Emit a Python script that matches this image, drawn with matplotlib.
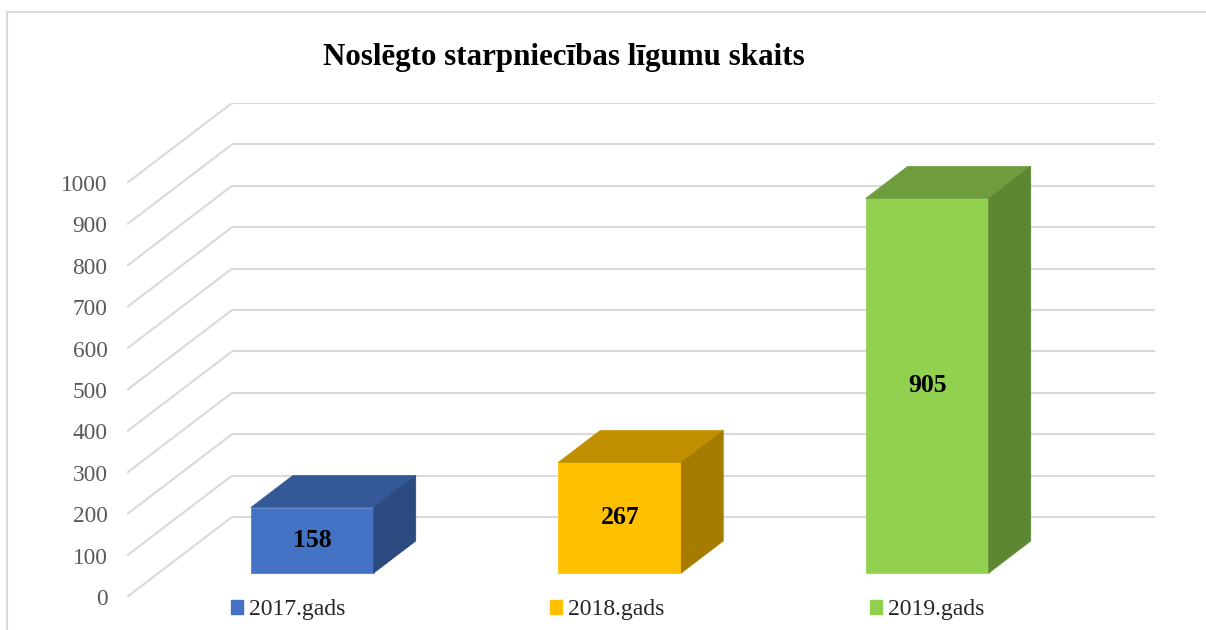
import matplotlib
matplotlib.use("Agg")
import matplotlib.pyplot as plt
from matplotlib.patches import Polygon, Patch, Rectangle

# ---- data ----
categories = ["2017.gads", "2018.gads", "2019.gads"]
values = [158, 267, 905]
yticks = list(range(0, 1001, 100))
title = "Noslēgto starpniecības līgumu skaits"

front_colors = ["#4472C4", "#FFC000", "#92D050"]
top_colors = ["#355899", "#C09000", "#6F9D3E"]
side_colors = ["#2D4A80", "#A67C00", "#5E8733"]

W, H = 1206, 630
fig = plt.figure(figsize=(W / 100, H / 100), dpi=100)
serif = ["Liberation Serif", "DejaVu Serif"]

# axes placed so the front-wall plane maps value -> pixels
left_px, right_px, bot_px, top_px = 127, 1154.5, 597, 103
ax = fig.add_axes([left_px / W, 1 - bot_px / H,
                   (right_px - left_px) / W, (bot_px - top_px) / H])

# perspective depth vector (in data units: categories / values)
DX = 105 / 307.5
DV = 80 / 0.414
t_front, t_back = 0.3, 0.7
bar_w = 0.4
xmin, xmax = -0.5, len(categories) - 0.5

ax.set_xlim(xmin, xmax + DX)
ax.set_ylim(0, yticks[-1] + DV)

grid_c = "#D9D9D9"
for v in yticks:
    # side wall diagonal and back wall horizontal
    ax.plot([xmin, xmin + DX], [v, v + DV], color=grid_c, lw=1.5, zorder=1,
            solid_capstyle="butt")
    ax.plot([xmin + DX, xmax + DX], [v + DV, v + DV], color=grid_c, lw=1.5,
            zorder=1, solid_capstyle="butt")

for i, (val, fc, tc, sc) in enumerate(zip(values, front_colors, top_colors, side_colors)):
    x0 = i - bar_w / 2 + t_front * DX
    x1 = x0 + bar_w
    b = t_front * DV
    d_x = (t_back - t_front) * DX
    d_v = (t_back - t_front) * DV
    # front face
    ax.bar(x0, val, width=bar_w, bottom=b, align="edge", color=fc,
           edgecolor=fc, lw=0.5, zorder=3)
    # top face
    ax.add_patch(Polygon([(x0, b + val), (x1, b + val), (x1 + d_x, b + val + d_v),
                          (x0 + d_x, b + val + d_v)], closed=True,
                         facecolor=tc, edgecolor=tc, lw=0.5, zorder=3))
    # side face
    ax.add_patch(Polygon([(x1, b), (x1 + d_x, b + d_v), (x1 + d_x, b + val + d_v),
                          (x1, b + val)], closed=True,
                         facecolor=sc, edgecolor=sc, lw=0.5, zorder=3))
    ax.text((x0 + x1) / 2, b + val / 2, str(val), ha="center", va="center",
            fontsize=18.5, fontweight="bold", family=serif, color="black", zorder=4)

ax.set_yticks(yticks)
ax.set_yticklabels([str(v) for v in yticks], family=serif, fontsize=16.8,
                   color="#595959")
ax.tick_params(axis="y", length=0, pad=14)
ax.set_xticks([])
for s in ax.spines.values():
    s.set_visible(False)
ax.patch.set_alpha(0)

# title
fig.text(0.5 * (322 + 805) / W, 1 - 57 / H, title, ha="center", va="center",
         fontsize=22.3, fontweight="bold", family=serif, color="black")

# legend
handles = [Patch(facecolor=c, edgecolor=c) for c in front_colors]
leg = fig.legend(handles, categories, loc="center", ncol=3,
                 bbox_to_anchor=(0.5 * (228 + 987) / W, 1 - 610 / H),
                 frameon=False, prop={"family": serif, "size": 17},
                 handlelength=0.5, handleheight=0.5, handletextpad=0.25,
                 columnspacing=8.7, borderpad=0, borderaxespad=0)
for t in leg.get_texts():
    t.set_color("#262626")

# chart border (left and top edges visible)
fig.add_artist(Rectangle((7 / W, -0.05), 1.2, 1.05 - 12 / H, transform=fig.transFigure,
                         fill=False, edgecolor="#D9D9D9", lw=1.5))

fig.savefig("out.png", dpi=100)
